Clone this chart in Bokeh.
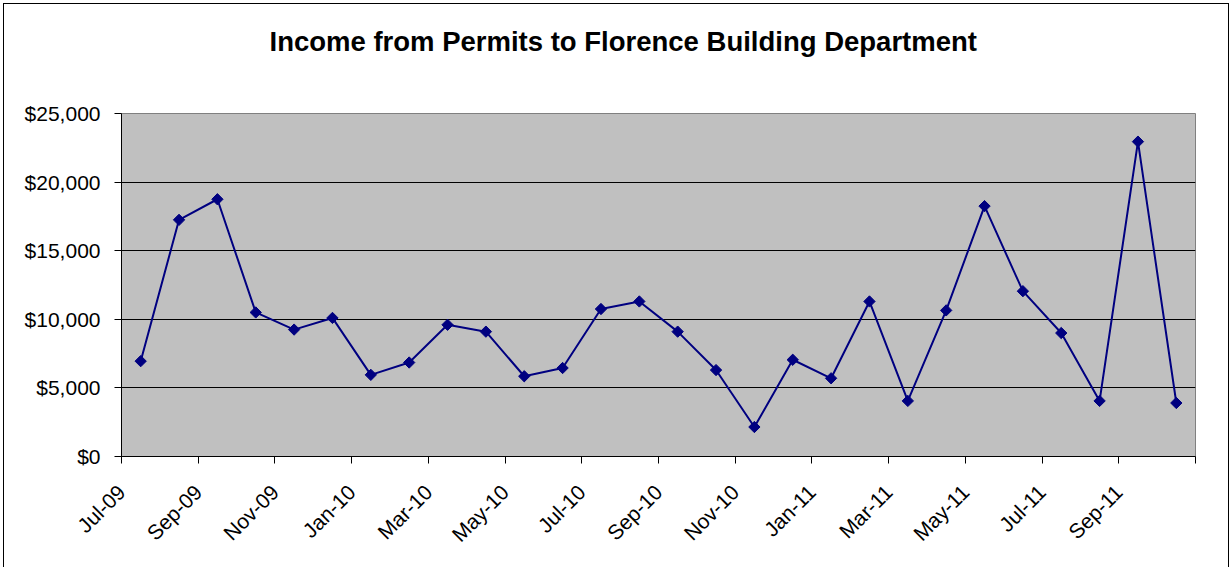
from math import pi
from bokeh.plotting import figure
from bokeh.models import Range1d, FixedTicker, NumeralTickFormatter, ColumnDataSource, Title
from bokeh.embed import file_html
from bokeh.resources import INLINE

months = ["Jul-09", "Aug-09", "Sep-09", "Oct-09", "Nov-09", "Dec-09",
          "Jan-10", "Feb-10", "Mar-10", "Apr-10", "May-10", "Jun-10",
          "Jul-10", "Aug-10", "Sep-10", "Oct-10", "Nov-10", "Dec-10",
          "Jan-11", "Feb-11", "Mar-11", "Apr-11", "May-11", "Jun-11",
          "Jul-11", "Aug-11", "Sep-11", "Oct-11"]
income = [6950, 17250, 18750, 10500, 9250, 10100,
          5950, 6850, 9600, 9100, 5850, 6450,
          10750, 11300, 9100, 6300, 2150, 7050,
          5700, 11300, 4050, 10650, 18250, 12050,
          9000, 4050, 22950, 3900]
y_ticks = [0, 5000, 10000, 15000, 20000, 25000]
title_text = "Income from Permits to Florence Building Department"

x = [i + 0.5 for i in range(len(months))]
src = ColumnDataSource(dict(x=x, y=income, month=months))

p = figure(width=1226, height=564, output_backend="svg", toolbar_location=None,
           x_range=Range1d(0, len(months)), y_range=Range1d(0, 25000),
           min_border_left=117, min_border_right=35, min_border_top=109,
           min_border_bottom=112)
p.title_location = None
p.styles = {"margin-left": "3px", "margin-top": "3px",
            "border-top": "1px solid black", "border-left": "1px solid black",
            "border-right": "1px solid black"}

# spacer (closest to the frame) then the real title above it
spacer = Title(text=" ", text_font_size="1px", standoff=49)
p.add_layout(spacer, "above")
main_title = Title(text=title_text, align="left", offset=148, standoff=10,
                   text_font="Liberation Sans", text_font_size="27.5px",
                   text_font_style="bold", text_color="black")
p.add_layout(main_title, "above")

p.background_fill_color = "#C0C0C0"
p.border_fill_color = "white"
p.outline_line_color = "#808080"
p.outline_line_width = 1

xt = list(range(0, len(months) + 1, 2))
p.xaxis.ticker = FixedTicker(ticks=xt)
p.xaxis.major_label_overrides = {t: (months[t] if t < len(months) else "") for t in xt}
p.xaxis.major_label_orientation = pi / 4
p.yaxis.ticker = FixedTicker(ticks=y_ticks)
p.yaxis.formatter = NumeralTickFormatter(format="$0,0")

for ax in (p.xaxis[0], p.yaxis[0]):
    ax.axis_line_color = "black"
    ax.axis_line_width = 1
    ax.major_tick_line_color = "black"
    ax.major_tick_out = 7
    ax.major_tick_in = 0
    ax.minor_tick_line_color = None
    ax.major_label_text_font = "Liberation Sans"
    ax.major_label_text_color = "black"
p.yaxis.major_label_text_font_size = "21px"
p.xaxis.major_label_text_font_size = "21px"
p.yaxis.major_label_standoff = 14
p.xaxis.major_label_standoff = 25

p.xgrid.visible = False
p.ygrid.ticker = FixedTicker(ticks=y_ticks)
p.ygrid.grid_line_color = "black"
p.ygrid.grid_line_width = 1

p.line("x", "y", source=src, line_color="#000080", line_width=2)
p.scatter("x", "y", source=src, marker="square", size=8, angle=pi / 4,
          fill_color="#000080", line_color="#000080", line_width=1)

open("out.html", "w").write(file_html(p, INLINE))
